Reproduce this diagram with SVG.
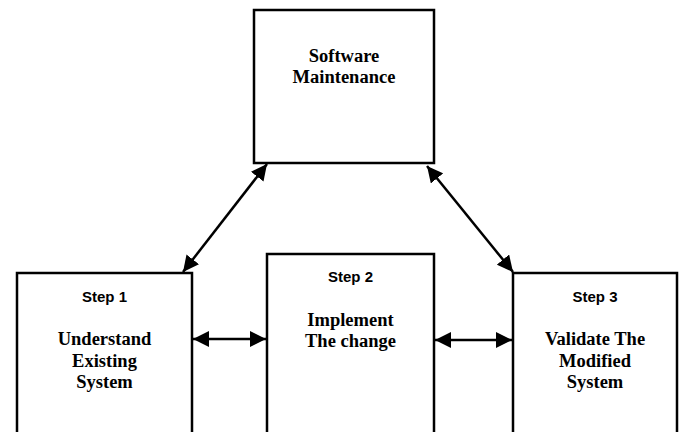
<svg xmlns="http://www.w3.org/2000/svg" width="682" height="432" viewBox="0 0 682 432">
<style>
.box{fill:#fff;stroke:#000;stroke-width:2.5}
.serif{font-family:"Liberation Serif","Times New Roman",serif;font-weight:bold;font-size:18.5px;text-anchor:middle;fill:#000}
.sans{font-family:"Liberation Sans",Arial,sans-serif;font-weight:bold;font-size:15px;text-anchor:middle;fill:#000}
.conn{stroke:#000;stroke-width:2.5;fill:none;marker-start:url(#ah);marker-end:url(#ah)}
</style>
<defs>
<marker id="ah" markerUnits="userSpaceOnUse" markerWidth="18" markerHeight="16" refX="16" refY="8" orient="auto-start-reverse">
<path d="M0,0 L16,8 L0,16 Z" fill="#000"/>
</marker>
</defs>
<rect width="682" height="432" fill="#fff"/>
<g id="software-maintenance">
<rect class="box" x="254" y="10" width="180" height="153"/>
<text class="serif" x="344" y="62">Software</text>
<text class="serif" x="344" y="83">Maintenance</text>
</g>
<g id="step1">
<rect class="box" x="17" y="273" width="175" height="170"/>
<text class="sans" x="104.5" y="302">Step 1</text>
<text class="serif" x="104.5" y="345">Understand</text>
<text class="serif" x="104.5" y="367">Existing</text>
<text class="serif" x="104.5" y="388">System</text>
</g>
<g id="step2">
<rect class="box" x="267" y="254" width="167" height="190"/>
<text class="sans" x="350.5" y="282">Step 2</text>
<text class="serif" x="350.5" y="326">Implement</text>
<text class="serif" x="350.5" y="347">The change</text>
</g>
<g id="step3">
<rect class="box" x="513" y="273" width="164" height="170"/>
<text class="sans" x="595" y="302">Step 3</text>
<text class="serif" x="595" y="345">Validate The</text>
<text class="serif" x="595" y="367">Modified</text>
<text class="serif" x="595" y="388">System</text>
</g>
<g id="connectors">
<line class="conn" x1="183" y1="272" x2="267" y2="164"/>
<line class="conn" x1="427" y1="166" x2="513" y2="272"/>
<line class="conn" x1="193" y1="339" x2="266" y2="339"/>
<line class="conn" x1="435" y1="340" x2="512" y2="340"/>
</g>
</svg>
